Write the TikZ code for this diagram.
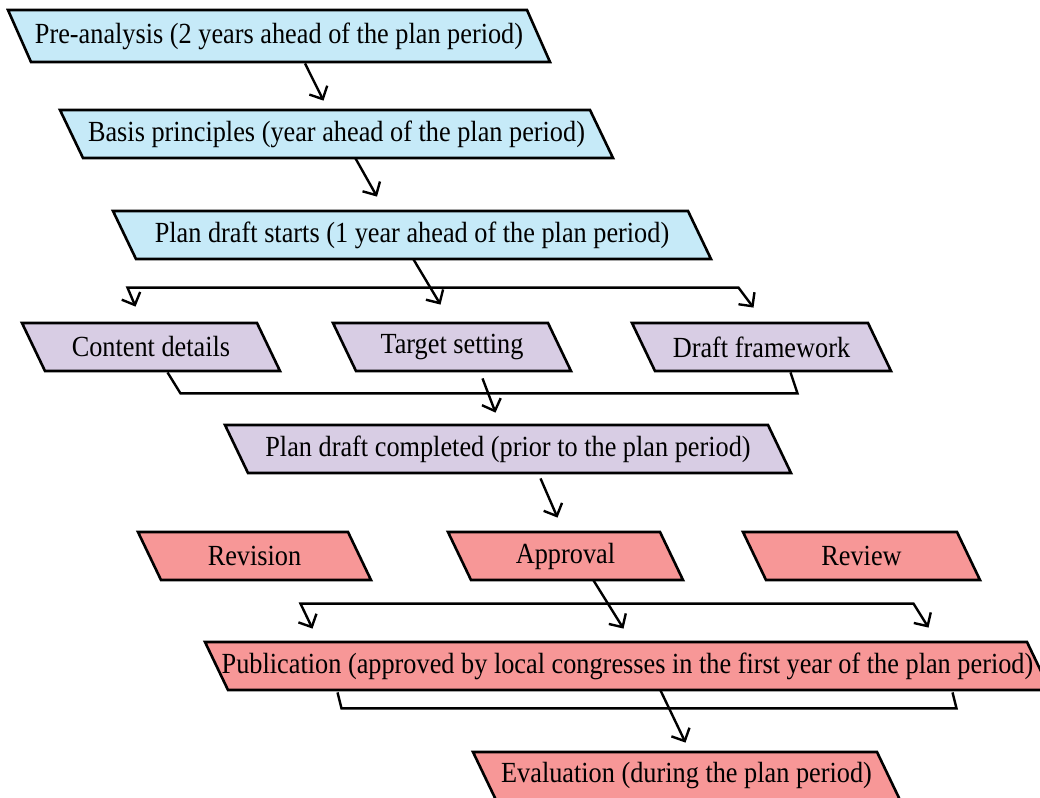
\documentclass[tikz,border=0pt]{standalone}
\usepackage{fontspec}
\setmainfont{Liberation Serif}[FakeStretch=0.9]
\usetikzlibrary{arrows.meta,calc}

\definecolor{skyfill}{RGB}{198,234,248}
\definecolor{lilacfill}{RGB}{216,205,228}
\definecolor{rosefill}{RGB}{247,151,151}

\tikzset{
  pshape/.style={draw=black, line width=1.3pt, line join=miter},
  pnode/.style={inner sep=0pt, text=black, font=\fontsize{14.6pt}{16pt}\selectfont},
  barb/.tip={Straight Barb[length=5pt,width=10pt]},
  link/.style={line width=1.2pt, -barb},
  bar/.style={line width=1.2pt},
}

% parallelogram step: name, fill, top-left x, top-right x, top y, bottom y, text
\newcommand\pbox[7]{%
  \filldraw[pshape, fill=#2] (#3,#5) -- (#4,#5) -- ({#4+23},#6) -- ({#3+23},#6) -- cycle;
  \node[pnode, minimum width={(#4-#3)*0.5pt}, minimum height={(#6-#5)*0.5pt}]
    (#1) at ({(#3+#4)/2+11.5},{(#5+#6)/2}) {#7};
}

\begin{document}
\begin{tikzpicture}[x=0.5pt, y=-0.5pt]
\clip (0,0) rectangle (1040,798);
\fill[white] (0,0) rectangle (1040,798);

% preparation stage
\pbox{pre}{skyfill}{8}{527}{10}{62}{Pre-analysis (2 years ahead of the plan period)}
\pbox{basis}{skyfill}{60}{590}{110}{158}{Basis principles (year ahead of the plan period)}
\pbox{start}{skyfill}{113}{688}{211}{259}{Plan draft starts (1 year ahead of the plan period)}

% drafting stage
\pbox{content}{lilacfill}{22}{257}{323}{371}{Content details}
\pbox{target}{lilacfill}{333}{548}{323}{371}{Target setting}
\pbox{frame}{lilacfill}{632}{868}{323}{371}{Draft framework}
\pbox{done}{lilacfill}{225}{768}{425}{473}{Plan draft completed (prior to the plan period)}

% approval stage
\pbox{revision}{rosefill}{138}{348}{532}{580}{Revision}
\pbox{approval}{rosefill}{448}{660}{532}{580}{Approval}
\pbox{review}{rosefill}{743}{957}{532}{580}{Review}
\pbox{pub}{rosefill}{205}{1027}{642}{690}{Publication (approved by local congresses in the first year of the plan period)}
\pbox{eval}{rosefill}{473}{877}{752}{800}{Evaluation (during the plan period)}

% sequential links
\draw[link] ($(pre.south)+(26,1)$) -- ($(basis.north)+(-13,-9)$);
\draw[link] ($(basis.south)+(19,0)$) -- ($(start.north)+(-35,-14)$);

% fan-out to the drafting tasks
\coordinate (fanL) at ($(content.north)+(-23.5,-35)$);
\coordinate (fanLt) at ($(content.north)+(-15.5,-16)$);
\coordinate (fanR) at ($(frame.north)+(-23,-35)$);
\coordinate (fanRt) at ($(frame.north)+(-8,-15)$);
\draw[bar, barb-barb] (fanLt) -- (fanL) -- (fanR) -- (fanRt);
\draw[link] ($(start.south)+(1.5,0)$) -- ($(target.north)+(-11.5,-18)$);

% merge of the drafting tasks
\draw[bar] ($(content.south)+(16.5,1)$) -- ($(content.south)+(29.5,22)$)
  -- ($(frame.south)+(36,22)$) -- ($(frame.south)+(29,1)$);
\draw[link] ($(target.south)+(30.5,7)$) -- ($(done.north)+(-12.5,-12)$);

\draw[link] ($(done.south)+(32.5,5)$) -- ($(approval.north)+(-8,-14)$);

% fan-out towards publication
\coordinate (pubL) at ($(pub.north)+(-327,-38)$);
\coordinate (pubLt) at ($(pub.north)+(-315,-13)$);
\coordinate (pubR) at ($(pub.north)+(286,-38)$);
\coordinate (pubRt) at ($(pub.north)+(301,-14)$);
\draw[bar, barb-barb] (pubLt) -- (pubL) -- (pubR) -- (pubRt);
\draw[link] ($(approval.south)+(28,0)$) -- ($(pub.north)+(-4,-13)$);

% bracket under publication and final step
\draw[bar] ($(pub.south)+(-290,2)$) -- ($(pub.south)+(-286,18)$)
  -- ($(pub.south)+(329,18)$) -- ($(pub.south)+(325,2)$);
\draw[link] ($(pub.south)+(33,0)$) -- ($(eval.north)+(-1,-9)$);
\end{tikzpicture}
\end{document}
